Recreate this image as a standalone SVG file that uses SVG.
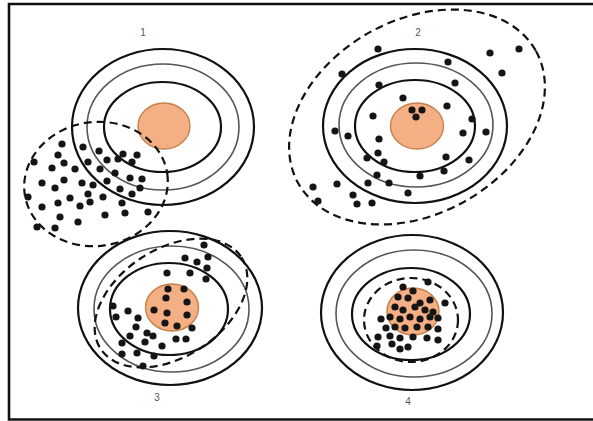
<svg xmlns="http://www.w3.org/2000/svg" width="593" height="421" viewBox="0 0 593 421">
  <style>
    .ring { fill: none; stroke: #111; stroke-width: 2.2; }
    .ring-mid { fill: none; stroke: #555; stroke-width: 1.6; }
    .bull { fill: #f4b084; stroke: #c8804a; stroke-width: 1.4; }
    .spread { fill: none; stroke: #111; stroke-width: 2.2; stroke-dasharray: 8 5; }
    .dot { fill: #151515; }
    .lbl { font-family: "Liberation Sans", Arial, sans-serif; font-size: 10px; fill: #555; text-anchor: middle; }
  </style>
  <defs>
    <circle id="d" r="3.6" class="dot"/>
  </defs>

  <rect width="593" height="421" fill="#fff"/>
  <!-- page frame (right edge runs off the sheet) -->
  <path d="M 600 4 H 9 V 419.5 H 600" fill="none" stroke="#111" stroke-width="2.6"/>

  <!-- Target 1: off-centre, tight group -->
  <g id="target1">
    <ellipse class="ring" cx="163" cy="127" rx="91" ry="78"/>
    <ellipse class="ring-mid" cx="163" cy="127" rx="76" ry="63"/>
    <ellipse class="ring" cx="162.5" cy="127" rx="58.5" ry="45"/>
    <ellipse class="bull" cx="164" cy="126" rx="26" ry="23"/>
    <ellipse class="spread" cx="96" cy="184" rx="72" ry="62" transform="rotate(-8 96 184)"/>
    <g>
      <use href="#d" x="62" y="144"/><use href="#d" x="83" y="147"/><use href="#d" x="99" y="151"/>
      <use href="#d" x="123" y="154"/><use href="#d" x="137" y="155"/><use href="#d" x="58" y="155"/>
      <use href="#d" x="34" y="162"/><use href="#d" x="52" y="168"/><use href="#d" x="64" y="163"/>
      <use href="#d" x="75" y="169"/><use href="#d" x="88" y="162"/><use href="#d" x="107" y="160"/>
      <use href="#d" x="118" y="159"/><use href="#d" x="132" y="162"/><use href="#d" x="100" y="169"/>
      <use href="#d" x="115" y="173"/><use href="#d" x="130" y="178"/><use href="#d" x="142" y="179"/>
      <use href="#d" x="42" y="183"/><use href="#d" x="55" y="188"/><use href="#d" x="64" y="180"/>
      <use href="#d" x="82" y="183"/><use href="#d" x="93" y="185"/><use href="#d" x="107" y="181"/>
      <use href="#d" x="120" y="189"/><use href="#d" x="132" y="194"/><use href="#d" x="140" y="188"/>
      <use href="#d" x="28" y="197"/><use href="#d" x="42" y="207"/><use href="#d" x="58" y="203"/>
      <use href="#d" x="70" y="198"/><use href="#d" x="80" y="206"/><use href="#d" x="90" y="202"/>
      <use href="#d" x="88" y="194"/><use href="#d" x="103" y="197"/><use href="#d" x="122" y="203"/>
      <use href="#d" x="105" y="215"/><use href="#d" x="125" y="213"/><use href="#d" x="148" y="212"/>
      <use href="#d" x="60" y="217"/><use href="#d" x="78" y="222"/><use href="#d" x="55" y="228"/>
      <use href="#d" x="37" y="227"/>
    </g>
    <text class="lbl" x="143" y="36">1</text>
  </g>

  <!-- Target 2: centred but widely scattered -->
  <g id="target2">
    <ellipse class="ring" cx="415" cy="126" rx="92" ry="77"/>
    <ellipse class="ring-mid" cx="416" cy="125" rx="77" ry="62"/>
    <ellipse class="ring" cx="415" cy="126" rx="60" ry="46"/>
    <ellipse class="bull" cx="417" cy="126" rx="26.5" ry="23"/>
    <ellipse class="spread" cx="417" cy="117" rx="136" ry="97" transform="rotate(-29 417 117)"/>
    <g>
      <use href="#d" x="378" y="49"/><use href="#d" x="490" y="53"/><use href="#d" x="519" y="49"/>
      <use href="#d" x="342" y="74"/><use href="#d" x="448" y="62"/><use href="#d" x="502" y="73"/>
      <use href="#d" x="455" y="83"/><use href="#d" x="379" y="85"/><use href="#d" x="403" y="98"/>
      <use href="#d" x="412" y="110"/><use href="#d" x="422" y="110"/><use href="#d" x="416" y="117"/>
      <use href="#d" x="447" y="106"/><use href="#d" x="373" y="116"/><use href="#d" x="472" y="119"/>
      <use href="#d" x="335" y="131"/><use href="#d" x="348" y="136"/><use href="#d" x="463" y="133"/>
      <use href="#d" x="486" y="132"/><use href="#d" x="379" y="139"/><use href="#d" x="378" y="153"/>
      <use href="#d" x="367" y="158"/><use href="#d" x="384" y="162"/><use href="#d" x="446" y="157"/>
      <use href="#d" x="469" y="160"/><use href="#d" x="444" y="171"/><use href="#d" x="420" y="176"/>
      <use href="#d" x="377" y="175"/><use href="#d" x="368" y="183"/><use href="#d" x="389" y="183"/>
      <use href="#d" x="408" y="193"/><use href="#d" x="337" y="184"/><use href="#d" x="313" y="187"/>
      <use href="#d" x="353" y="195"/><use href="#d" x="318" y="201"/><use href="#d" x="357" y="204"/>
      <use href="#d" x="372" y="203"/>
    </g>
    <text class="lbl" x="418" y="36">2</text>
  </g>

  <!-- Target 3: tight group, slightly off centre -->
  <g id="target3">
    <ellipse class="ring" cx="170" cy="308" rx="92" ry="77"/>
    <ellipse class="ring-mid" cx="171.5" cy="309" rx="77.5" ry="63"/>
    <ellipse class="ring" cx="169" cy="309" rx="59" ry="46"/>
    <ellipse class="bull" cx="172" cy="307.5" rx="26.5" ry="23.5"/>
    <ellipse class="spread" cx="171" cy="303" rx="84" ry="54" transform="rotate(-33 171 303)"/>
    <g>
      <use href="#d" x="204" y="245"/><use href="#d" x="185" y="258"/><use href="#d" x="197" y="262"/>
      <use href="#d" x="208" y="257"/><use href="#d" x="190" y="273"/><use href="#d" x="207" y="268"/>
      <use href="#d" x="206" y="279"/><use href="#d" x="167" y="273"/><use href="#d" x="168" y="289"/>
      <use href="#d" x="184" y="289"/><use href="#d" x="166" y="298"/><use href="#d" x="187" y="302"/>
      <use href="#d" x="154" y="310"/><use href="#d" x="167" y="313"/><use href="#d" x="187" y="315"/>
      <use href="#d" x="165" y="323"/><use href="#d" x="177" y="326"/><use href="#d" x="192" y="328"/>
      <use href="#d" x="113" y="306"/><use href="#d" x="116" y="317"/><use href="#d" x="128" y="311"/>
      <use href="#d" x="138" y="318"/><use href="#d" x="136" y="327"/><use href="#d" x="130" y="336"/>
      <use href="#d" x="147" y="333"/><use href="#d" x="153" y="336"/><use href="#d" x="145" y="342"/>
      <use href="#d" x="122" y="343"/><use href="#d" x="137" y="353"/><use href="#d" x="162" y="346"/>
      <use href="#d" x="176" y="339"/><use href="#d" x="186" y="339"/><use href="#d" x="122" y="354"/>
      <use href="#d" x="154" y="356"/><use href="#d" x="143" y="366"/>
    </g>
    <text class="lbl" x="157" y="401">3</text>
  </g>

  <!-- Target 4: tight group on the bullseye -->
  <g id="target4">
    <ellipse class="ring" cx="412" cy="312.5" rx="91" ry="77.5"/>
    <ellipse class="ring-mid" cx="414" cy="313.5" rx="78" ry="63.5"/>
    <ellipse class="ring" cx="411" cy="314" rx="59" ry="46"/>
    <ellipse class="bull" cx="413" cy="311.5" rx="26" ry="23.5"/>
    <ellipse class="spread" cx="411" cy="320" rx="47" ry="42"/>
    <g>
      <use href="#d" x="428" y="282"/><use href="#d" x="403" y="287"/><use href="#d" x="413" y="291"/>
      <use href="#d" x="398" y="297"/><use href="#d" x="408" y="298"/><use href="#d" x="420" y="303"/>
      <use href="#d" x="430" y="300"/><use href="#d" x="395" y="307"/><use href="#d" x="403" y="310"/>
      <use href="#d" x="415" y="307"/><use href="#d" x="425" y="310"/><use href="#d" x="433" y="312"/>
      <use href="#d" x="445" y="303"/><use href="#d" x="390" y="317"/><use href="#d" x="400" y="319"/>
      <use href="#d" x="410" y="317"/><use href="#d" x="420" y="319"/><use href="#d" x="430" y="317"/>
      <use href="#d" x="438" y="318"/><use href="#d" x="381" y="319"/><use href="#d" x="386" y="328"/>
      <use href="#d" x="395" y="327"/><use href="#d" x="405" y="328"/><use href="#d" x="417" y="327"/>
      <use href="#d" x="428" y="327"/><use href="#d" x="438" y="329"/><use href="#d" x="378" y="337"/>
      <use href="#d" x="390" y="336"/><use href="#d" x="400" y="338"/><use href="#d" x="413" y="337"/>
      <use href="#d" x="427" y="338"/><use href="#d" x="438" y="340"/><use href="#d" x="377" y="346"/>
      <use href="#d" x="392" y="344"/><use href="#d" x="400" y="349"/><use href="#d" x="408" y="347"/>
    </g>
    <text class="lbl" x="408" y="405">4</text>
  </g>

  <!-- no connectors in this figure -->
  <g id="connectors"/>
</svg>
